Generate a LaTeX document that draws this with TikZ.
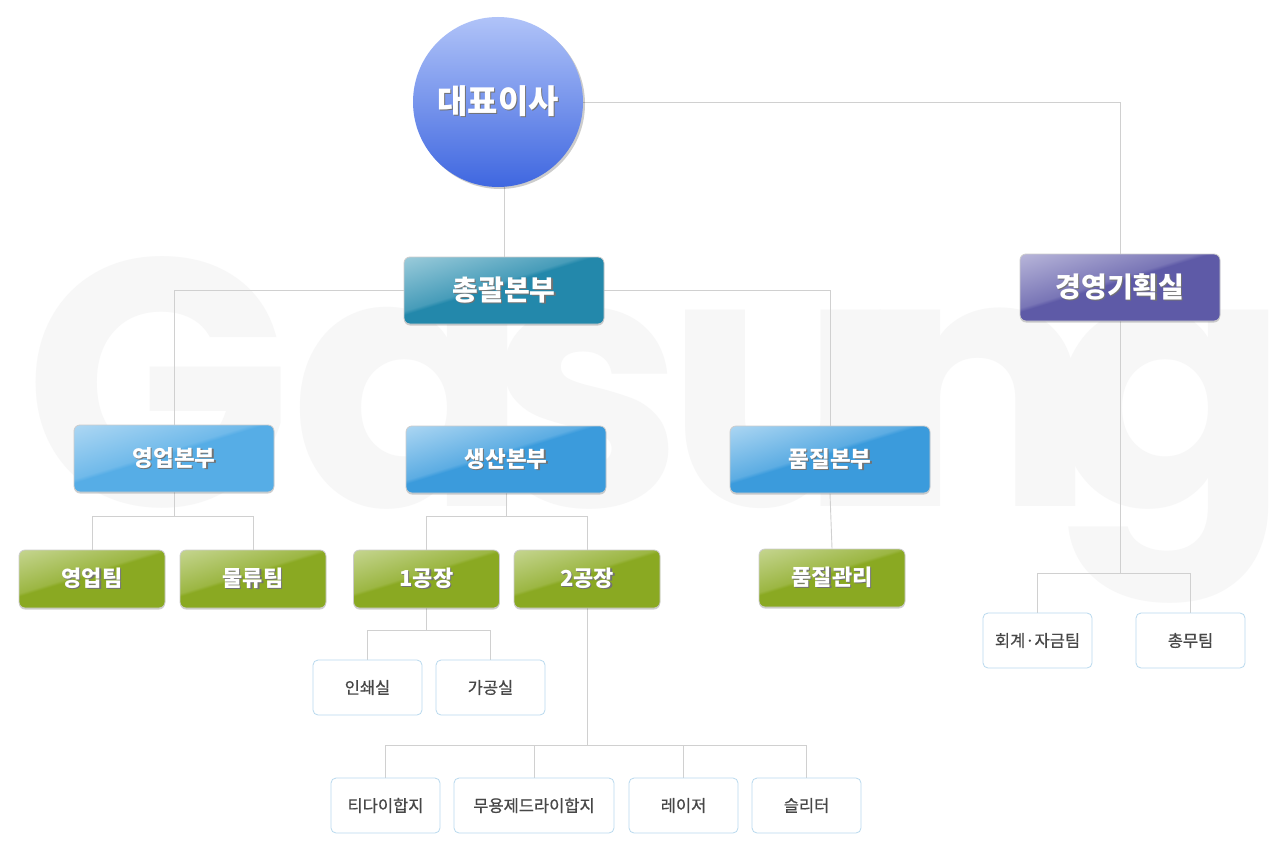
\documentclass[tikz,border=0pt]{standalone}
\usepackage{fontspec}
\newfontfamily\kr{Noto Sans CJK KR}
\newfontfamily\krm{Noto Sans CJK KR}[FakeBold=0.6]
\newfontfamily\pop{Poppins}
\usetikzlibrary{shadows,calc}
\definecolor{linec}{HTML}{D0D0D0}
\definecolor{wmc}{HTML}{F7F7F7}
\definecolor{sbord}{HTML}{B9D9EE}
\definecolor{stext}{HTML}{474747}
\definecolor{ceotop}{HTML}{B0C3F8}
\definecolor{ceobot}{HTML}{3F67E0}
\definecolor{hqlo}{HTML}{2388AB}
\definecolor{hqhi}{HTML}{A3D0DE}
\definecolor{gplo}{HTML}{5E5AA7}
\definecolor{gphi}{HTML}{BEBCDD}
\definecolor{salo}{HTML}{56ADE6}
\definecolor{blo}{HTML}{3B9BDC}
\definecolor{bhi}{HTML}{B3DAF4}
\definecolor{grlo}{HTML}{8AA922}
\definecolor{grhi}{HTML}{C9D897}
\colorlet{glosslo}{hqlo}
\colorlet{glosshi}{hqhi}
\pgfdeclareverticalshading[glosslo,glosshi]{gloss}{100bp}{color(0bp)=(glosslo); color(53bp)=(glosslo); color(55bp)=(glosslo!72!glosshi); color(84bp)=(glosshi); color(100bp)=(glosshi)}
\pgfdeclarelayer{wm}
\pgfdeclarelayer{bg}
\pgfsetlayers{wm,bg,main}
\newcommand\shd[1]{\leavevmode\rlap{\kern1.3pt\raisebox{-1.3pt}{\color{black!55}#1}}#1}
\tikzset{
  box/.style={rectangle, rounded corners=6pt, draw=black!20, line width=0.8pt, text=white, inner sep=0pt,
    drop shadow={shadow xshift=0pt, shadow yshift=-1.5pt, opacity=0.18, fill=black}},
  big/.style={box, minimum width=200pt, minimum height=67pt, font=\kr\bfseries\fontsize{28}{32}\selectfont},
  mid/.style={box, minimum width=146pt, minimum height=58pt, font=\kr\bfseries\fontsize{22}{26}\selectfont},
  bluefont/.style={font=\kr\bfseries\fontsize{22.5}{26}\selectfont},
  gl/.style 2 args={/utils/exec={\colorlet{glosslo}{#1}\colorlet{glosshi}{#2}}, shading=gloss, shading angle=17},
  small/.style={rectangle, rounded corners=5pt, draw=sbord, line width=0.8pt, fill=white, minimum width=109pt,
    minimum height=55pt, inner sep=0pt, text=stext, font=\krm\fontsize{16.5}{19}\selectfont},
  conn/.style={draw=linec, line width=0.9pt},
  ceostyle/.style={circle, minimum size=170pt, inner sep=0pt, top color=ceotop, bottom color=ceobot, text=white,
    font=\kr\bfseries\fontsize{33}{38}\selectfont,
    drop shadow={shadow xshift=2pt, shadow yshift=-2pt, opacity=0.2, fill=black}}
}
\begin{document}
\begin{tikzpicture}[x=1pt,y=-1pt]
\useasboundingbox (0,0) rectangle (1281,856);
% watermark
\begin{pgfonlayer}{wm}
\fill[white] (0,0) rectangle (1281,856);
\node[anchor=base west, inner sep=0pt, text=wmc, font=\pop\bfseries\fontsize{352}{352}\selectfont] (wmark) at (24,506)
  {G\kern-2pt a\kern-42pt s\kern-18pt u\kern-45pt n\kern-44pt g};
\end{pgfonlayer}
% nodes
\node[ceostyle] (ceo) at (498,102) {\shd{대표이사}};
\node[big, gl={hqlo}{hqhi}] (hq) at (504,290.5) {\shd{총괄본부}};
\node[big, gl={gplo}{gphi}] (gp) at (1120,287.5) {\shd{경영기획실}};
\node[big, gl={salo}{bhi}, bluefont] (sales) at (174,458.5) {\shd{영업본부}};
\node[big, gl={blo}{bhi}, bluefont] (prod) at (506,459.5) {\shd{생산본부}};
\node[big, gl={blo}{bhi}, bluefont] (qual) at (830,459.5) {\shd{품질본부}};
\node[mid, gl={grlo}{grhi}] (t1) at (92,579) {\shd{영업팀}};
\node[mid, gl={grlo}{grhi}] (t2) at (253,579) {\shd{물류팀}};
\node[mid, gl={grlo}{grhi}] (f1) at (426.5,579) {\shd{1공장}};
\node[mid, gl={grlo}{grhi}] (f2) at (587,579) {\shd{2공장}};
\node[mid, gl={grlo}{grhi}] (qm) at (832,578) {\shd{품질관리}};
\node[small] (r1) at (367.5,687.5) {인쇄실};
\node[small] (r2) at (490.5,687.5) {가공실};
\node[small] (b1) at (385.5,805.5) {티다이합지};
\node[small, minimum width=160pt] (b2) at (534,805.5) {무용제드라이합지};
\node[small] (b3) at (683.5,805.5) {레이저};
\node[small] (b4) at (806.5,805.5) {슬리터};
\node[small] (a1) at (1037.5,640.5) {회계·자금팀};
\node[small] (a2) at (1190.5,640.5) {총무팀};
% connectors
\begin{pgfonlayer}{bg}
\draw[conn] (ceo.east) -| (gp.north);
\draw[conn] (hq.north |- ceo.center) -- (hq.north);
\draw[conn] (sales.north) |- (hq.west);
\draw[conn] (hq.east) -| (qual.north);
\draw[conn] (qual.south) -- (qm.north);
\draw[conn] (sales.south) -- ++(0,24) coordinate (js);
\draw[conn] (t1.north) |- (js) -| (t2.north);
\draw[conn] (prod.south) -- ++(0,23) coordinate (jp);
\draw[conn] (f1.north) |- (jp) -| (f2.north);
\draw[conn] (f1.south) -- ++(0,22) coordinate (jf1);
\draw[conn] (r1.north) |- (jf1) -| (r2.north);
\draw[conn] (f2.south) -- ++(0,137) coordinate (jf2);
\draw[conn] (b1.north) |- (jf2) -| (b4.north);
\draw[conn] (b2.north) -- (b2.north |- jf2);
\draw[conn] (b3.north) -- (b3.north |- jf2);
\draw[conn] (gp.south) -- ++(0,252) coordinate (jg);
\draw[conn] (a1.north) |- (jg) -| (a2.north);
\end{pgfonlayer}
\end{tikzpicture}
\end{document}
